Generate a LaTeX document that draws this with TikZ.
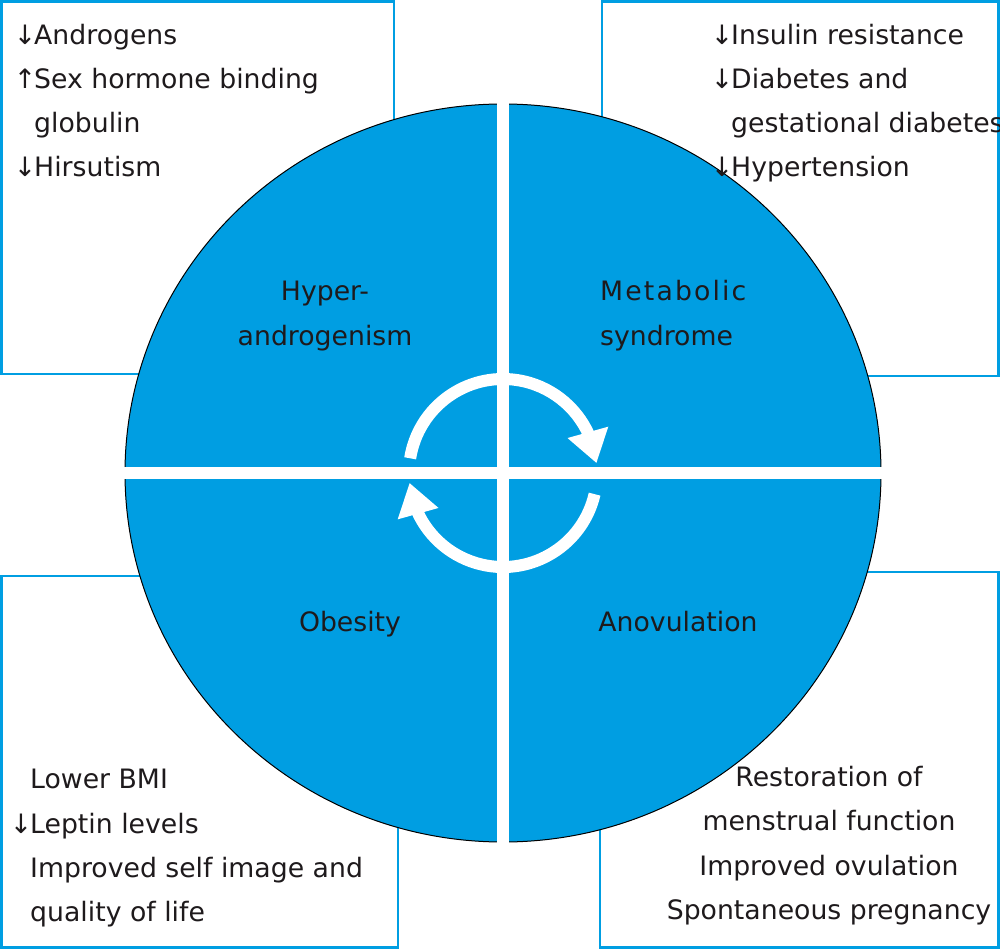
\documentclass[tikz,border=0pt]{standalone}
\usepackage{fontspec}
\setmainfont{DejaVu Sans}
\newfontfamily\spacedfont[LetterSpace=8]{DejaVu Sans}
\usetikzlibrary{arrows.meta,bending,shapes.geometric,calc}
\definecolor{cblue}{RGB}{0,158,226}
\definecolor{ink}{RGB}{30,26,28}
\begin{document}
\begin{tikzpicture}[x=1pt,y=-1pt,
  box/.style={draw=cblue,line width=2.5pt,fill=white,rectangle,inner sep=0pt},
  txt/.style={font=\fontsize{26.7}{44}\selectfont,text=ink,inner sep=0pt,anchor=base west},
  ctxt/.style={txt,anchor=base},
  ring/.style={draw=white,line width=12pt,-{Triangle[length=32pt,width=40pt,flex]}}]
\useasboundingbox (0,0) rectangle (1000,949);
% boxes
\node[box,minimum width=392.5pt,minimum height=372.5pt] (tlbox) at (197.75,187.75) {};
\node[box,minimum width=396.5pt,minimum height=374.5pt] (trbox) at (800.25,188.75) {};
\node[box,minimum width=396.5pt,minimum height=371.5pt] (blbox) at (199.75,761.75) {};
\node[box,minimum width=398.5pt,minimum height=375.5pt] (brbox) at (799.25,759.75) {};
% disc
\node[ellipse,draw=black,line width=1pt,fill=cblue,inner sep=0pt,
  minimum width=756pt,minimum height=738pt] (disc) at (503,473) {};
\fill[white] (497,100) rectangle (509,846);
\fill[white] (120,467) rectangle (886,479);
% cycle arrows
\coordinate (c) at (503,473);
\draw[ring] ($(c)+(171:94pt)$) arc[start angle=171,end angle=6,radius=94pt];
\draw[ring] ($(c)+(-13:94pt)$) arc[start angle=-13,end angle=-174,radius=94pt];
% quadrant labels
\node[ctxt] (hyp1) at (325,301) {Hyper-};
\node[ctxt] (hyp2) at (325,345) {androgenism};
\node[txt,font=\spacedfont\fontsize{26.7}{44}\selectfont] (met1) at (600,301) {Metabolic};
\node[txt] (met2) at (600,345) {syndrome};
\node[ctxt] (obe) at (350,631) {Obesity};
\node[ctxt] (ano) at (678,631) {Anovulation};
% top-left box
\node[txt] (tl1) at (34,45) {\llap{↓\kern-2pt}Androgens};
\node[txt] (tl2) at (34,89) {\llap{↑\kern-2pt}Sex hormone binding};
\node[txt] (tl3) at (34,133) {globulin};
\node[txt] (tl4) at (34,177) {\llap{↓\kern-2pt}Hirsutism};
% top-right box
\node[txt] (tr1) at (731,45) {\llap{↓\kern-2pt}Insulin resistance};
\node[txt] (tr2) at (731,89) {\llap{↓\kern-2pt}Diabetes and};
\node[txt] (tr3) at (731,133) {gestational diabetes};
\node[txt] (tr4) at (731,177) {\llap{↓\kern-2pt}Hypertension};
% bottom-left box
\node[txt] (bl1) at (30,788) {Lower BMI};
\node[txt] (bl2) at (30,833) {\llap{↓\kern-2pt}Leptin levels};
\node[txt] (bl3) at (30,877) {Improved self image and};
\node[txt] (bl4) at (30,921) {quality of life};
% bottom-right box
\node[ctxt] (br1) at (829,786) {Restoration of};
\node[ctxt] (br2) at (829,830) {menstrual function};
\node[ctxt] (br3) at (829,875) {Improved ovulation};
\node[ctxt] (br4) at (829,919) {Spontaneous pregnancy};
\end{tikzpicture}
\end{document}
